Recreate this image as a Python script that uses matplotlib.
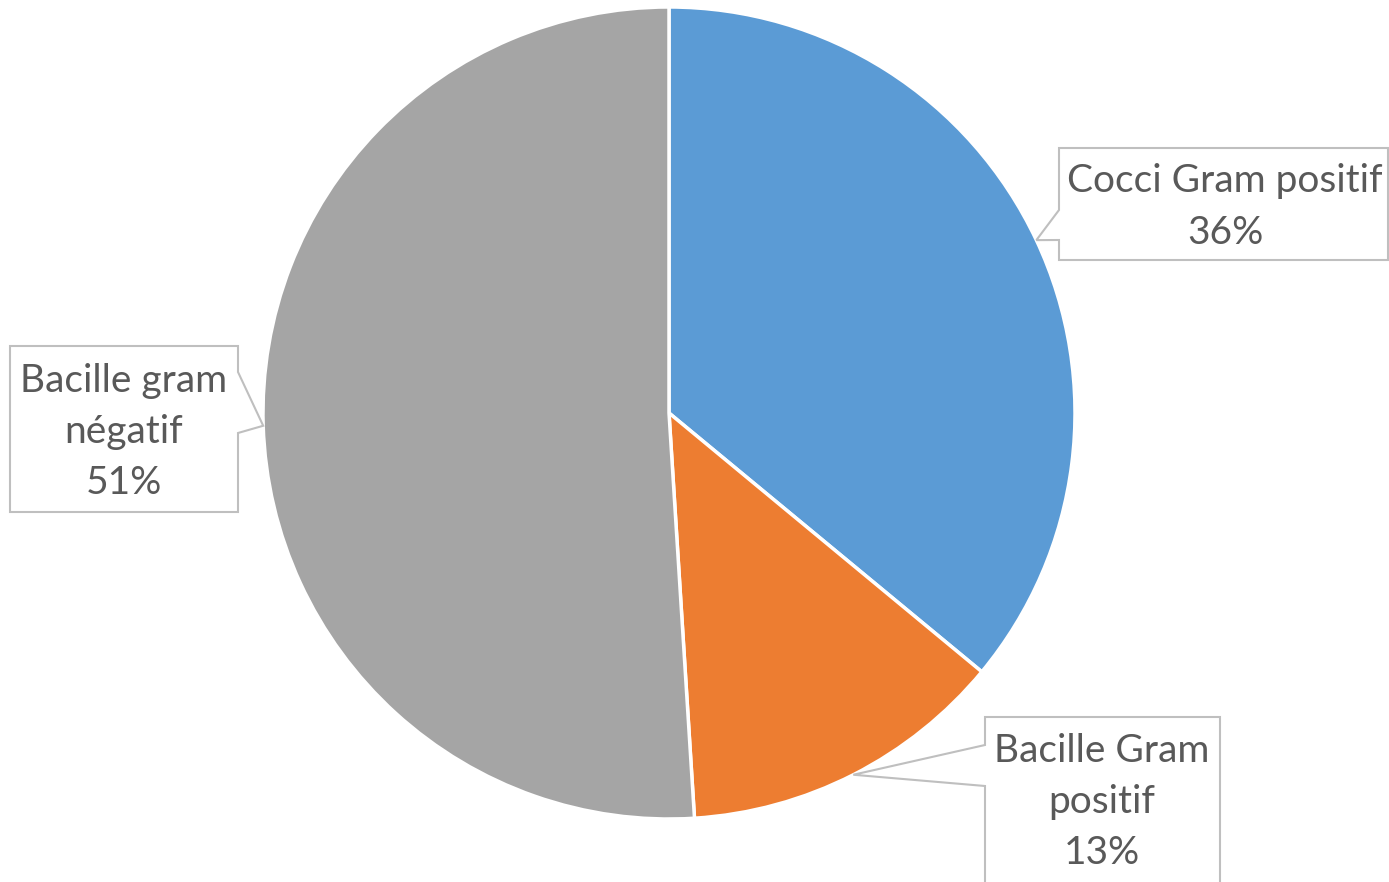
import matplotlib
matplotlib.use('Agg')
import matplotlib.pyplot as plt
from matplotlib.patches import Polygon
import numpy as np

labels = ["Cocci Gram positif", "Bacille Gram\npositif", "Bacille gram\nnégatif"]
values = [36, 13, 51]
colors = ["#5B9BD5", "#ED7D31", "#A5A5A5"]

W, H = 1389, 882
cx, cy, r = 669, H - 413, 406

fig = plt.figure(figsize=(W / 100, H / 100), dpi=100)
ax = fig.add_axes([0, 0, 1, 1])
wedges, _ = ax.pie(values, startangle=90, counterclock=False, center=(cx, cy), radius=r,
                   colors=colors, wedgeprops=dict(edgecolor="white", linewidth=2.5))
ax.set_xlim(0, W)
ax.set_ylim(0, H)
ax.set_aspect("equal")
ax.axis("off")

# callout boxes: (left, top, right, bottom, side, base1, base2, text x, text y) in pixels
boxes = [
    (1059, 148, 1388, 260, "left", 210, 240, 1225, 207),
    (985, 717, 1220, 900, "left", 745, 786, 1102, 802),
    (10, 346, 238, 512, "right", 372, 433, 124, 432),
]

for w, lab, val, (x0, y0, x1, y1, side, b1, b2, tx, ty) in zip(wedges, labels, values, boxes):
    mid = np.deg2rad((w.theta1 + w.theta2) / 2)
    tip = (cx + r * np.cos(mid), cy + r * np.sin(mid))
    Y = lambda v: H - v
    if side == "left":
        pts = [(x0, Y(y0)), (x1, Y(y0)), (x1, Y(y1)), (x0, Y(y1)), (x0, Y(b2)), tip, (x0, Y(b1))]
    else:
        pts = [(x0, Y(y0)), (x1, Y(y0)), (x1, Y(b1)), tip, (x1, Y(b2)), (x1, Y(y1)), (x0, Y(y1))]
    ax.add_patch(Polygon(pts, closed=True, facecolor="white", edgecolor="#BFBFBF", lw=1.5, zorder=3))
    ax.text(tx, Y(ty), f"{lab}\n{val}%", ha="center", va="center", fontsize=28,
            family="Lato", color="#595959", linespacing=1.52, zorder=4)

fig.savefig("out.png", dpi=100)
